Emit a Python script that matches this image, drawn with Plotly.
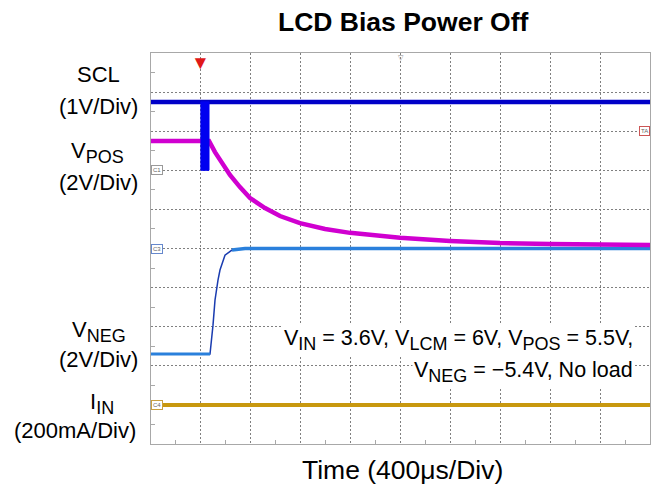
import plotly.graph_objects as go

# scope capture: LCD bias power off, 400us/div, 10 x 10 divisions

time_div_us = 400
n_div = 10

# channel setup: ground position (div) and scale (units/div)
scl_offset, scl_scale = 7.0, 1.0        # V/div
vpos_offset, vpos_scale = 5.0, 2.0      # V/div
vneg_offset, vneg_scale = 5.0, 2.0      # V/div
iin_offset, iin_scale = 1.0, 200.0      # mA/div

trigger_us = 400

# SCL (V): steady high, burst of clocks right after trigger
scl_t = [0, 4000]
scl_v = [1.75, 1.75]
scl_burst_t = [400, 465, 465, 400, 400]
scl_burst_v = [0.0, 0.0, 1.75, 1.75, 0.0]

# VPOS (V)
vpos_t = [0, 465, 513, 569, 633, 713, 794, 914, 1034, 1194, 1395, 1595,
          1996, 2397, 2798, 3198, 4000]
vpos_v = [5.5, 5.5, 4.93, 4.37, 3.76, 3.14, 2.58, 2.07, 1.66, 1.30, 1.00, 0.80,
          0.55, 0.39, 0.28, 0.23, 0.18]

# VNEG (V)
vneg_t = [0, 473, 497, 513, 537, 553, 593, 649, 754, 4000]
vneg_v = [-5.4, -5.4, -3.92, -2.64, -1.62, -1.10, -0.34, -0.08, 0.0, 0.0]

# IIN (mA)
iin_t = [0, 4000]
iin_ma = [0.0, 0.0]


def to_div(vals, offset, scale):
    return [offset + v / scale for v in vals]


W, H = 658, 489
ML, MR, MT, MB = 151, 8, 53, 45


def px(x):
    return (x - ML) / (W - ML - MR)


def py(y):
    return (H - MB - y) / (H - MT - MB)


def sub(s, size=18):
    return f'<sub><span style="font-size:{size}px">{s}</span></sub>'


FONT = "Liberation Sans, Arial, Helvetica, sans-serif"

fig = go.Figure()

vneg_div = to_div(vneg_v, vneg_offset, vneg_scale)

fig.add_trace(go.Scatter(x=iin_t, y=to_div(iin_ma, iin_offset, iin_scale), mode='lines',
                         line=dict(color='#C8980E', width=4), hoverinfo='skip'))
# VNEG: thin dark edge, thick light flats
fig.add_trace(go.Scatter(x=vneg_t, y=vneg_div, mode='lines',
                         line=dict(color='#1A3CB0', width=1.5), hoverinfo='skip'))
fig.add_trace(go.Scatter(x=vneg_t[:2], y=vneg_div[:2], mode='lines',
                         line=dict(color='#2A80DC', width=3), hoverinfo='skip'))
fig.add_trace(go.Scatter(x=vneg_t[-3:], y=vneg_div[-3:], mode='lines',
                         line=dict(color='#2A80DC', width=3.5), hoverinfo='skip'))
fig.add_trace(go.Scatter(x=vpos_t, y=to_div(vpos_v, vpos_offset, vpos_scale), mode='lines',
                         line=dict(color='#D000D0', width=4.5), hoverinfo='skip'))
fig.add_trace(go.Scatter(x=scl_t, y=to_div(scl_v, scl_offset, scl_scale), mode='lines',
                         line=dict(color='#0000C8', width=4.5), hoverinfo='skip'))
fig.add_trace(go.Scatter(x=scl_burst_t, y=to_div(scl_burst_v, scl_offset, scl_scale), mode='lines',
                         fill='toself', fillcolor='#0000F0',
                         line=dict(color='#0000F0', width=1), hoverinfo='skip'))

grid = dict(showgrid=True, gridcolor='#808080', griddash='2px,2px', gridwidth=1,
            showline=True, linecolor='#A8A8A8', linewidth=1, mirror=True,
            zeroline=False, showticklabels=False, ticks='', fixedrange=True)

fig.update_layout(
    width=W, height=H,
    margin=dict(l=ML, r=MR, t=MT, b=MB),
    paper_bgcolor='white', plot_bgcolor='white',
    showlegend=False,
    font=dict(family=FONT, color='black'),
    xaxis=dict(range=[0, n_div * time_div_us], dtick=time_div_us,
               minor=dict(dtick=time_div_us / 2, ticks='inside', ticklen=4,
                          tickcolor='#A8A8A8', showgrid=False),
               **grid),
    yaxis=dict(range=[0, n_div], dtick=1,
               minor=dict(dtick=0.5, ticks='inside', ticklen=4,
                          tickcolor='#A8A8A8', showgrid=False),
               **grid),
)

ann = []
ann.append(dict(text='<b>LCD Bias Power Off</b>', xref='paper', yref='paper',
                x=px(403), y=py(22), xanchor='center', yanchor='middle',
                font=dict(size=26.5), showarrow=False))
ann.append(dict(text='Time (400μs/Div)', xref='paper', yref='paper',
                x=px(402), y=py(470), xanchor='center', yanchor='middle',
                font=dict(size=26.5), showarrow=False))

left_labels = [
    ('SCL', 98, 75),
    ('(1V/Div)', 98, 106),
    ('V' + sub('POS'), 97, 152),
    ('(2V/Div)', 98, 182),
    ('V' + sub('NEG'), 99, 331),
    ('(2V/Div)', 98, 359),
    ('I' + sub('IN'), 102, 403),
    ('(200mA/Div)', 75, 430),
]
for txt, cx, cy in left_labels:
    ann.append(dict(text=txt, xref='paper', yref='paper', x=px(cx), y=py(cy),
                    xanchor='center', yanchor='middle', font=dict(size=22),
                    showarrow=False))

cond = ['V' + sub('IN') + ' = 3.6V, V' + sub('LCM') + ' = 6V, V' + sub('POS') + ' = 5.5V,',
        'V' + sub('NEG') + ' = \u22125.4V, No load']
for txt, cy in zip(cond, [340, 372]):
    ann.append(dict(text=txt, xref='paper', yref='paper', x=px(635), y=py(cy),
                    xanchor='right', yanchor='middle', font=dict(size=21.5),
                    showarrow=False, bgcolor='white'))

# trigger and horizontal position markers
ann.append(dict(text='\u25BC', xref='x', yref='paper', x=trigger_us, y=1.005,
                xanchor='center', yanchor='top', font=dict(size=19, color='#E01818'),
                showarrow=False, borderpad=0))
ann.append(dict(text='\u25BD', xref='x', yref='paper', x=n_div * time_div_us / 2, y=1,
                xanchor='center', yanchor='top', font=dict(size=7, color='#888888'),
                showarrow=False, borderpad=0))

# channel ground tags
tags = [('C1', scl_offset, '#999999', 0, 'left'),
        ('C3', vneg_offset, '#6688CC', 0, 'left'),
        ('C4', iin_offset, '#C8A040', 0, 'left'),
        ('TA', 8.0, '#CC5555', 1, 'right')]
for txt, lvl, col, xp, anchor in tags:
    ann.append(dict(text=txt, xref='paper', yref='y', x=xp, y=lvl,
                    xanchor=anchor, yanchor='middle', font=dict(size=6, color='#666666'),
                    bordercolor=col, borderwidth=1, borderpad=1, bgcolor='white',
                    showarrow=False))

fig.update_layout(annotations=ann)

fig.write_html("out.html", config={'displayModeBar': False},
               post_script="document.body.style.margin='0px';")
